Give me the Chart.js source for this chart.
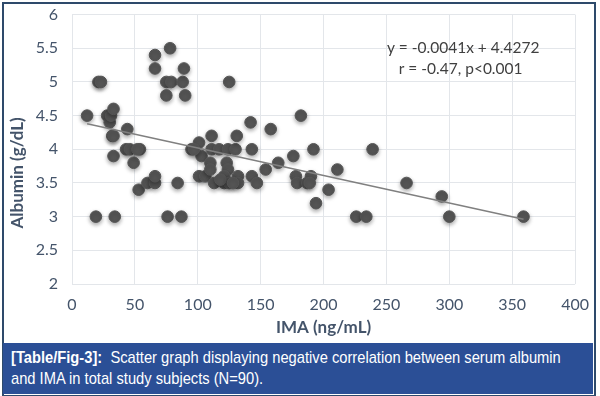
<!DOCTYPE html>
<html>
<head>
<meta charset="utf-8">
<script src="https://cdn.jsdelivr.net/npm/chart.js@4.4.0/dist/chart.umd.min.js"></script>
<style>
  body { margin: 0; background: #fff; }
  #wrap { position: relative; width: 600px; height: 396px; overflow: hidden; }
  #chart-box { position: absolute; left: 0; top: -9px; width: 600px; height: 351px; }
  #frame { position: absolute; left: 2px; top: 2px; width: 590px; height: 391px; border: 2px solid #2e4a6b; }
  #caption { position: absolute; left: 3px; top: 343px; width: 590px; height: 51px; background: #2b4f96;
    color: #fff; font-family: "Liberation Sans", Arial, sans-serif; font-size: 17px;
    line-height: 21px; padding: 4px 0 0 8px; box-sizing: border-box; white-space: nowrap; }
  #caption span { display: inline-block; transform: scaleX(0.865); transform-origin: left center; }
</style>
</head>
<body>
<div id="wrap">
  <div id="chart-box"><canvas id="chart-graph-albumin"></canvas></div>
  <div id="frame"></div>
  <div id="caption"><span><b>[Table/Fig-3]:</b>&nbsp; Scatter graph displaying negative correlation between serum albumin</span><br><span>and IMA in total study subjects (N=90).</span></div>
</div>
<script>
var imaValues = [12, 21, 23, 19, 28, 30, 31, 33, 32, 33, 33, 34, 44, 43, 46, 54, 49, 53, 60, 66,
    66, 66, 66, 78, 75, 79, 88, 89, 75, 90, 76, 87, 84, 95, 101, 101, 106, 103, 111, 111,
    117, 124, 130, 143, 131, 125, 110, 123, 110, 124, 121, 132, 143, 113, 121, 125, 132, 147, 142, 158,
    182, 192, 239, 154, 164, 176, 178, 190, 179, 187, 189, 204, 194, 211, 226, 234, 266, 294, 300, 359,
    118, 128, 97, 52];
var albuminValues = [4.5, 5.0, 5.0, 3.0, 4.5, 4.4, 4.5, 4.6, 4.2, 4.2, 3.9, 3.0, 4.3, 4.0, 4.0, 4.0, 3.8, 3.4, 3.5, 3.5,
    3.6, 5.4, 5.2, 5.5, 5.0, 5.0, 5.0, 5.2, 4.8, 4.8, 3.0, 3.0, 3.5, 4.0, 4.1, 3.6, 3.6, 3.9, 4.2, 4.0,
    4.0, 4.0, 4.0, 4.0, 4.2, 5.0, 3.8, 3.8, 3.7, 3.7, 3.6, 3.6, 3.6, 3.5, 3.5, 3.5, 3.5, 3.5, 4.4, 4.3,
    4.5, 4.0, 4.0, 3.7, 3.8, 3.9, 3.6, 3.6, 3.5, 3.5, 3.5, 3.4, 3.2, 3.7, 3.0, 3.0, 3.5, 3.3, 3.0, 3.0,
    3.55, 3.5, 4.0, 4.0];
var trendX = [12, 359];
var trendY = [4.38, 2.96];
var equationLines = ['y = -0.0041x + 4.4272', 'r = -0.47, p<0.001'];
var yTitle = 'Albumin (g/dL)';

var tickColor = '#44546a';
var fontFam = 'Lato, "Open Sans", sans-serif';
var points = imaValues.map(function (x, i) { return { x: x, y: albuminValues[i] }; });
var trend = trendX.map(function (x, i) { return { x: x, y: trendY[i] }; });

var shadowPlugin = {
    id: 'markerShadow',
    beforeDatasetDraw: function (chart, args) {
        if (args.index !== 1) return;
        chart.ctx.save();
        chart.ctx.shadowColor = 'rgba(0,0,0,0.35)';
        chart.ctx.shadowBlur = 4;
        chart.ctx.shadowOffsetY = 2;
    },
    afterDatasetDraw: function (chart, args) {
        if (args.index !== 1) return;
        chart.ctx.restore();
    }
};

// equation box and the y title (Excel puts it a bit below the middle)
var textPlugin = {
    id: 'extraText',
    afterDraw: function (chart) {
        var ctx = chart.ctx;
        var xs = chart.scales.x, ys = chart.scales.y;
        ctx.save();
        ctx.fillStyle = '#404040';
        ctx.font = '15.5px ' + fontFam;
        ctx.textAlign = 'center';
        ctx.textBaseline = 'middle';
        ctx.fillText(equationLines[0], xs.getPixelForValue(311), ys.getPixelForValue(5.5));
        ctx.fillText(equationLines[1], xs.getPixelForValue(309), ys.getPixelForValue(5.19));

        ctx.translate(18, ys.getPixelForValue(3.65));
        ctx.rotate(-Math.PI / 2);
        ctx.fillStyle = tickColor;
        ctx.font = 'bold 17px ' + fontFam;
        ctx.fillText(yTitle, 0, 0);
        ctx.restore();
    }
};

new Chart(document.getElementById('chart-graph-albumin').getContext('2d'), {
    data: {
        datasets: [{
            type: 'line',
            data: trend,
            borderColor: '#808080',
            borderWidth: 1.5,
            pointRadius: 0,
            fill: false,
            order: 0
        }, {
            type: 'scatter',
            data: points,
            backgroundColor: '#555555',
            borderColor: '#555555',
            pointRadius: 5.8,
            pointHoverRadius: 5.8,
            order: 1
        }]
    },
    options: {
        responsive: true,
        maintainAspectRatio: false,
        animation: false,
        layout: { padding: { left: 0, right: 23, top: 0, bottom: 0 } },
        plugins: { legend: { display: false }, tooltip: { enabled: false } },
        scales: {
            x: {
                type: 'linear', min: 0, max: 400,
                ticks: { stepSize: 50, color: tickColor, padding: 11, font: { size: 16, family: fontFam } },
                grid: { color: '#e3e6ea', drawTicks: false },
                border: { display: false },
                title: { display: true, text: 'IMA (ng/mL)', color: tickColor, padding: { top: 6 },
                    font: { size: 17, weight: 'bold', family: fontFam } },
                afterFit: function (scale) { scale.height = 58; }
            },
            y: {
                min: 2, max: 6,
                ticks: { stepSize: 0.5, color: tickColor, padding: 14,
                    callback: function (v) { return String(v); },
                    font: { size: 16, family: fontFam } },
                grid: { color: '#e3e6ea', drawTicks: false },
                border: { display: false },
                title: { display: false },
                afterFit: function (scale) { scale.width = 72; }
            }
        }
    },
    plugins: [shadowPlugin, textPlugin]
});
</script>
</body>
</html>
